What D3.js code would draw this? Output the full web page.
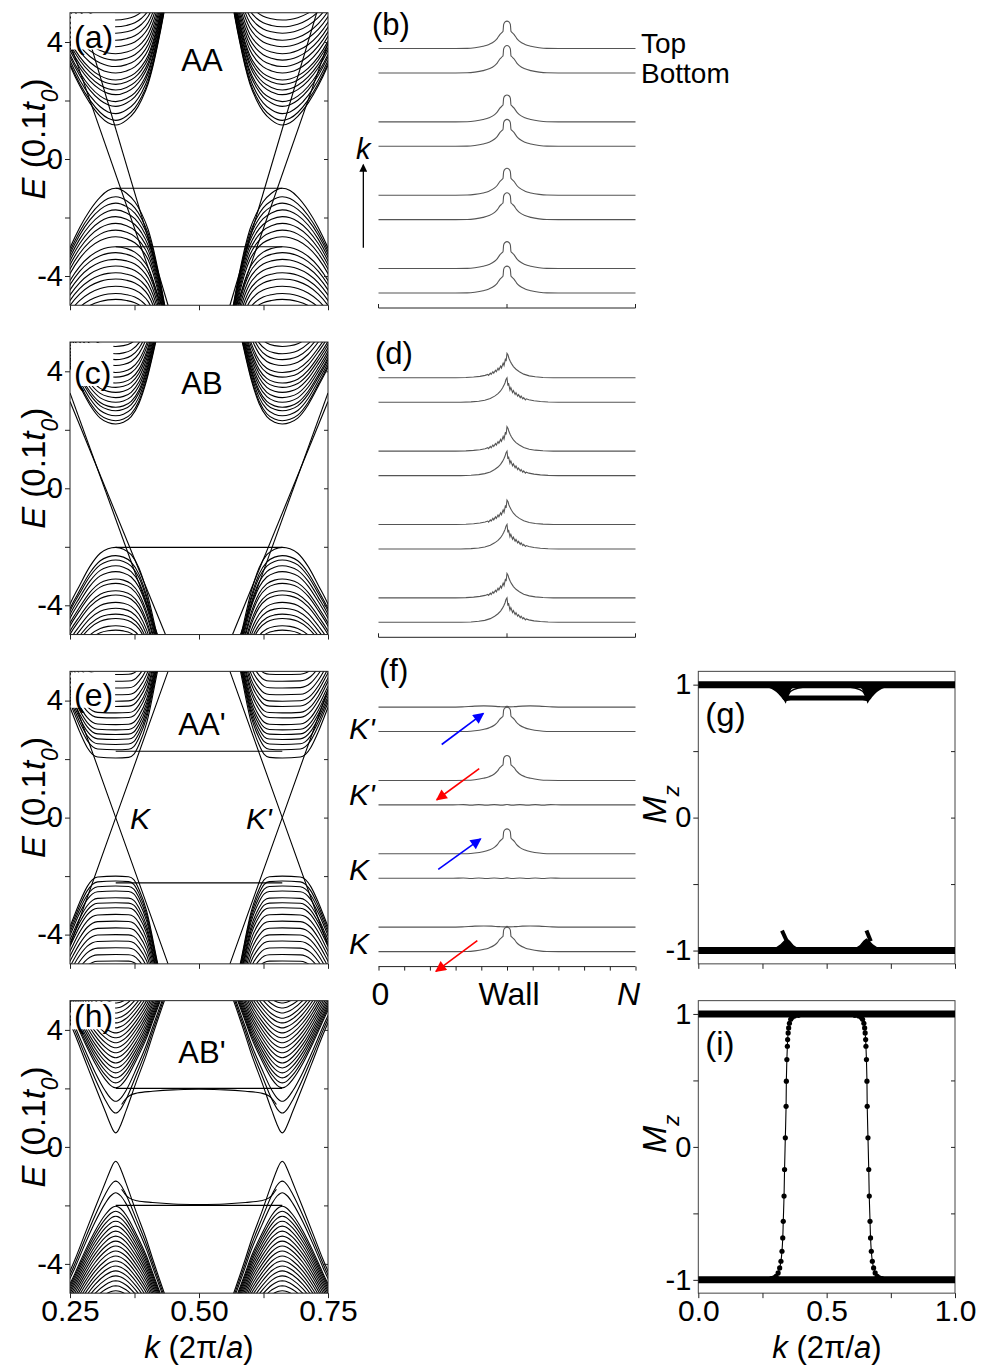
<!DOCTYPE html>
<html>
<head>
<meta charset="utf-8">
<title>Domain wall bands</title>
<script src="https://cdnjs.cloudflare.com/ajax/libs/d3/7.8.5/d3.min.js"></script>
<style>
  body { margin: 0; background: #fff; }
  svg { font-family: "Liberation Sans", Arial, sans-serif; }
</style>
</head>
<body>
<svg width="982" height="1365"></svg>
<script>
// valley position (K' = 1 - K)
var valleyK = 0.3386;

// ---- (a) AA : band extrema at K, dispersion of the outer band [dk, dE], edge states ----
var cbAA = [1.16, 1.32, 1.55, 1.8, 1.96, 2.2, 2.36, 2.55, 2.7, 2.94, 3.16, 3.38, 3.6, 3.84, 4.06, 4.3, 4.52, 4.75];
var vbAA = [-1.0, -1.29, -1.51, -1.74, -1.97, -2.2, -2.43, -2.66, -3.0, -3.2, -3.43, -3.66, -3.89, -4.1, -4.35, -4.6, -4.8];
var shapeAA = [[-0.15, 5.6], [-0.13, 4.2], [-0.11, 3.0], [-0.09, 2.1], [-0.07, 1.35], [-0.05, 0.75], [-0.03, 0.3], [-0.015, 0.08], [0, 0],
  [0.021, 0.17], [0.037, 0.46], [0.05, 0.86], [0.063, 1.42], [0.072, 2.0], [0.082, 2.8], [0.092, 3.7], [0.1, 4.5], [0.11, 5.4], [0.13, 7.2]];
var edgeAA = [[[0.25, 3.96], [0.427, -5]], [[0.25, 6.3], [0.44, -5]], [[valleyK, -1.0], [0.5, -1.0]], [[valleyK, -3.0], [0.5, -3.0]]];

// ---- (c) AB ----
var cbAB = [2.2, 2.31, 2.48, 2.65, 2.77, 2.94, 3.1, 3.28, 3.45, 3.6, 3.8, 3.96, 4.2, 4.4, 4.6, 4.85];
var vbAB = [-2.02, -2.3, -2.45, -2.65, -2.85, -3.1, -3.25, -3.5, -3.65, -3.9, -4.1, -4.3, -4.45, -4.7, -4.85];
var shapeAB = [[-0.15, 5.4], [-0.13, 4.1], [-0.11, 3.0], [-0.09, 2.0], [-0.07, 1.3], [-0.05, 0.65], [-0.03, 0.2], [-0.015, 0.05], [0, 0],
  [0.015, 0.06], [0.03, 0.25], [0.045, 0.7], [0.06, 1.5], [0.0775, 2.8], [0.09, 3.8], [0.1, 4.6], [0.11, 5.4], [0.13, 7.0]];
var edgeAB = [[[0.25, 3.26], [0.4196, -5]], [[0.25, 2.97], [0.435, -5]], [[valleyK, -2.02], [0.5, -2.02]]];

// ---- (e) AA' ----
var cbAAp = [2.04, 2.32, 2.5, 2.67, 2.84, 3.0, 3.18, 3.41, 3.58, 3.8, 3.98, 4.2, 4.43, 4.66, 4.89];
var vbAAp = [-2.0, -2.17, -2.34, -2.51, -2.74, -2.91, -3.08, -3.31, -3.54, -3.77, -4.0, -4.22, -4.45, -4.68, -4.9];
var shapeAAp = [[-0.15, 5.0], [-0.13, 3.7], [-0.11, 2.6], [-0.088, 1.7], [-0.07, 0.9], [-0.055, 0.35], [-0.045, 0.12], [-0.035, 0.03], [0, 0],
  [0.025, 0.02], [0.035, 0.12], [0.045, 0.45], [0.06, 1.2], [0.081, 2.96], [0.095, 4.1], [0.11, 5.4], [0.13, 7.0]];
var edgeAAp = [[[0.25, 4.38], [valleyK, 0], [0.44, -5]], [[0.25, -4.38], [valleyK, 0], [0.44, 5]],
  [[valleyK, 2.27], [0.5, 2.27]], [[valleyK, -2.23], [0.5, -2.23]]];

// ---- (h) AB' ----
var cbABp = [0.48, 1.16, 1.56, 2.02, 2.19, 2.36, 2.53, 2.7, 2.87, 3.05, 3.22, 3.39, 3.56, 3.73, 3.9, 4.07, 4.24, 4.4, 4.58, 4.75, 4.92];
var vbABp = [-0.49, -1.17, -1.57, -2.03, -2.2, -2.37, -2.54, -2.71, -2.88, -3.05, -3.22, -3.39, -3.56, -3.73, -3.9, -4.07, -4.24, -4.41, -4.58, -4.75, -4.92];
var shapeABp = [[-0.15, 6.2], [-0.13, 5.4], [-0.11, 4.6], [-0.079, 3.36], [-0.06, 2.5], [-0.04, 1.6], [-0.02, 0.72], [-0.01, 0.28], [-0.004, 0.06], [0, 0],
  [0.004, 0.06], [0.01, 0.28], [0.02, 0.75], [0.04, 1.75], [0.06, 2.7], [0.072, 3.36], [0.09, 4.3], [0.11, 5.3], [0.13, 6.3]];
var edgeABp = [[[valleyK, 2.0], [0.5, 2.0]], [[valleyK, -2.0], [0.5, -2.0]],
  [[0.35, 1.45], [0.357, 1.62], [0.365, 1.75], [0.38, 1.84], [0.41, 1.9], [0.45, 1.95], [0.5, 1.97]],
  [[0.35, -1.45], [0.357, -1.62], [0.365, -1.75], [0.38, -1.84], [0.41, -1.9], [0.45, -1.95], [0.5, -1.97]]];

// ---- wavefunction panels (b), (d), (f): offsets from the wall in sites, relative weight ----
var nSites = 200, wallSite = 100;
var cusp = [[-40, 0], [-31, 0.005], [-25, 0.03], [-18.6, 0.085], [-14, 0.15], [-9.6, 0.27], [-7.5, 0.37], [-5.7, 0.5],
  [-3.6, 0.6], [-3.1, 0.63], [-2.6, 0.88], [-1.5, 0.97], [0, 1], [1.5, 0.97], [2.6, 0.88], [3.1, 0.63], [3.6, 0.6],
  [5.7, 0.5], [7.5, 0.37], [9.6, 0.27], [14, 0.15], [18.6, 0.085], [25, 0.03], [31, 0.005], [40, 0]];
var jagLeft = [[-40, 0], [-32, 0.01], [-26, 0.03], [-21, 0.06], [-17, 0.1], [-15, 0.14], [-14.3, 0.1], [-13, 0.19],
  [-12.3, 0.14], [-11, 0.25], [-10.3, 0.19], [-9, 0.31], [-8.3, 0.25], [-7, 0.39], [-6.3, 0.32], [-5, 0.48], [-4.3, 0.4],
  [-3, 0.6], [-2.3, 0.5], [-1.2, 0.78], [-0.7, 0.68], [0, 1], [0.8, 0.93], [1.5, 0.8], [2.5, 0.68], [3.5, 0.58],
  [5, 0.46], [7, 0.35], [9.6, 0.25], [13, 0.15], [17.3, 0.08], [22, 0.04], [28, 0.015], [36, 0]];
var jagRight = [[-36, 0], [-28, 0.015], [-22, 0.04], [-17.3, 0.08], [-13, 0.15], [-9.6, 0.25], [-7, 0.35], [-5, 0.46],
  [-3.5, 0.58], [-2.5, 0.68], [-1.5, 0.8], [-0.8, 0.93], [0, 1], [0.7, 0.68], [1.2, 0.78], [2.3, 0.5], [3, 0.6],
  [4.3, 0.4], [5, 0.48], [6.3, 0.32], [7, 0.39], [8.3, 0.25], [9, 0.31], [10.3, 0.19], [11, 0.25], [12.3, 0.14],
  [13, 0.19], [14.3, 0.1], [15, 0.14], [17, 0.1], [21, 0.06], [26, 0.03], [32, 0.01], [40, 0]];
var ripple = [[-45, 0], [-35, 0.01], [-25, 0.04], [-18, 0.05], [-12, 0.04], [-6, 0.02], [-2, 0.01], [0, 0.03],
  [2, 0.01], [6, 0.02], [12, 0.04], [18, 0.05], [25, 0.04], [35, 0.01], [45, 0]];
var wiggle = [[-42, 0], [-34, 0.01], [-28, -0.01], [-22, 0.012], [-16, -0.01], [-10, 0.012], [-4, -0.01], [0, 0.015],
  [4, -0.01], [10, 0.012], [16, -0.01], [22, 0.012], [28, -0.01], [34, 0.01], [42, 0]];

var traceBase = [10, 9, 7, 6, 4, 3, 1, 0];
var shapesB = ["cusp", "cusp", "cusp", "cusp", "cusp", "cusp", "cusp", "cusp"];
var ampsB = [1.12, 1.12, 1.1, 1.1, 1.1, 1.1, 1.1, 1.1];
var shapesD = ["jagLeft", "jagRight", "jagLeft", "jagRight", "jagLeft", "jagRight", "jagLeft", "jagRight"];
var ampsD = [1.0, 1.0, 1.0, 1.0, 1.0, 1.0, 1.0, 1.0];
var shapesF = ["ripple", "cusp", "cusp", "wiggle", "cusp", "wiggle", "ripple", "cusp"];
var ampsF = [1, 1.0, 1.02, 1, 1.02, 1, 1, 1.0];
var spinArrowsF = [ // [siteFrom, yFrom, siteTo, yTo, colour]
  [49.2, 8.47, 81.6, 9.74, "#0000ff"], [78.4, 7.48, 45.3, 6.21, "#ff0000"],
  [46.5, 3.36, 79.5, 4.61, "#0000ff"], [76.9, 0.45, 44.7, -0.81, "#ff0000"]];
var valleyLabelsF = [["K'", 8.7], ["K'", 5.98], ["K", 2.91], ["K", -0.1]];

// ---- (g), (i): M_z against k ----
var gUpperBranch = [[0.265, 1], [0.29, 0.985], [0.31, 0.96], [0.33, 0.92], [0.34, 0.895], [0.36, 0.9], [0.5, 0.9],
  [0.64, 0.9], [0.66, 0.895], [0.67, 0.92], [0.69, 0.96], [0.71, 0.985], [0.735, 1]];
var gWedgeL = [[0.265, 0.995], [0.3, 0.975], [0.32, 0.94], [0.34, 0.87], [0.35, 0.93], [0.36, 0.97], [0.375, 0.995]];
var gWedgeR = [[0.625, 0.995], [0.64, 0.97], [0.65, 0.93], [0.66, 0.87], [0.68, 0.94], [0.7, 0.975], [0.735, 0.995]];
var gArcL = [[0.345, 0.9], [0.36, 0.95], [0.39, 0.975], [0.43, 0.985]];
var gArcR = [[0.655, 0.9], [0.64, 0.95], [0.61, 0.975], [0.57, 0.985]];
var gHillL = [[0.265, -1], [0.3, -0.985], [0.32, -0.96], [0.335, -0.93], [0.345, -0.915], [0.355, -0.93], [0.37, -0.965], [0.39, -0.99], [0.41, -1]];
var gHillR = [[0.59, -1], [0.61, -0.99], [0.63, -0.965], [0.645, -0.93], [0.655, -0.915], [0.665, -0.93], [0.68, -0.96], [0.7, -0.985], [0.735, -1]];
var gTails = [[[0.326, -0.85], [0.345, -0.93]], [[0.655, -0.85], [0.672, -0.93]]];
var iCurveL = [[0.285, -0.99], [0.295, -0.985], [0.303, -0.973], [0.311, -0.948], [0.317, -0.91], [0.322, -0.86],
  [0.326, -0.785], [0.329, -0.685], [0.331, -0.56], [0.334, -0.37], [0.336, -0.17], [0.339, 0.068], [0.342, 0.305],
  [0.343, 0.494], [0.345, 0.657], [0.347, 0.757], [0.348, 0.807], [0.35, 0.857], [0.352, 0.895], [0.355, 0.93],
  [0.36, 0.96], [0.366, 0.975], [0.375, 0.985], [0.39, 0.99]];
var iCurveR = iCurveL.map(function (p) { return [1 - p[0], p[1]]; });

// ---------------- drawing ----------------
var svg = d3.select("svg");
var defs = svg.append("defs");
[["headBlue", "#0000ff"], ["headRed", "#ff0000"], ["headBlack", "#000"]].forEach(function (m) {
  defs.append("marker").attr("id", m[0]).attr("viewBox", "0 0 10 10")
    .attr("refX", 9).attr("refY", 5).attr("markerUnits", "userSpaceOnUse")
    .attr("markerWidth", m[0] === "headBlack" ? 9 : 15).attr("markerHeight", m[0] === "headBlack" ? 8 : 11)
    .attr("orient", "auto")
    .append("path").attr("d", "M0,0L10,5L0,10Z").attr("fill", m[1]);
});

var rowY0 = [159, 488.3, 817.6, 1146.9];
var half = 146.25;
var L0 = 70, L1 = 328, M0 = 378.5, M1 = 635.5, R0 = 698.3, R1 = 955;

function yTitle(g, x, y, parts) {
  var t = g.append("text").attr("transform", "translate(" + x + "," + y + ") rotate(-90)")
    .attr("text-anchor", "middle").style("font-size", "33px");
  parts.forEach(function (p) {
    var s = t.append("tspan").text(p[0]);
    if (p[1]) s.style("font-style", "italic");
    if (p[2]) s.attr("baseline-shift", "sub").style("font-size", "23px");
  });
}

function xTitle(g, x, y) {
  var t = g.append("text").attr("x", x).attr("y", y).attr("text-anchor", "middle").style("font-size", "31px");
  t.append("tspan").text("k").style("font-style", "italic");
  t.append("tspan").text(" (2\u03c0/");
  t.append("tspan").text("a").style("font-style", "italic");
  t.append("tspan").text(")");
}

function styleAxis(sel, size) {
  sel.select(".domain").remove();
  sel.selectAll(".tick line").attr("stroke", "#222");
  sel.selectAll("text").style("font-size", (size || 29) + "px").attr("fill", "#000")
    .style("font-family", "'Liberation Sans', Arial, sans-serif");
}

function bandPanel(row, cb, vb, shape, edges, label, labelDy, name, nameDy, showX) {
  var y0 = rowY0[row];
  var x = d3.scaleLinear().domain([0.25, 0.75]).range([L0, L1]);
  var y = d3.scaleLinear().domain([-5, 5]).range([y0 + half, y0 - half]);
  var g = svg.append("g");
  var clipId = "clipBand" + row;
  defs.append("clipPath").attr("id", clipId).append("rect")
    .attr("x", L0).attr("y", y0 - half).attr("width", L1 - L0).attr("height", 2 * half);
  var plot = g.append("g").attr("clip-path", "url(#" + clipId + ")");
  var smooth = d3.line().x(function (d) { return x(d[0]); }).y(function (d) { return y(d[1]); }).curve(d3.curveMonotoneX);
  var straight = d3.line().x(function (d) { return x(d[0]); }).y(function (d) { return y(d[1]); });

  // every band of a valley shares the outer band's velocity: E^2 - E0^2 follows the outer band
  function addBand(E0, sign, eLow) {
    var m0 = Math.abs(E0), mLow = Math.abs(eLow);
    var pts = shape.map(function (p) {
      var m = mLow + p[1];
      return [p[0], sign * Math.sqrt(m0 * m0 + m * m - mLow * mLow)];
    });
    var left = pts.map(function (p) { return [valleyK + p[0], p[1]]; });
    var right = pts.map(function (p) { return [1 - valleyK - p[0], p[1]]; }).reverse();
    [left, right].forEach(function (pp) {
      plot.append("path").attr("d", smooth(pp)).attr("fill", "none").attr("stroke", "#000").attr("stroke-width", 1.1);
    });
  }
  cb.forEach(function (E0) { addBand(E0, 1, cb[0]); });
  vb.forEach(function (E0) { addBand(E0, -1, vb[0]); });
  edges.forEach(function (pts) {
    var mirror = pts.map(function (p) { return [1 - p[0], p[1]]; }).reverse();
    var gen = pts.length > 3 ? smooth : straight;
    [pts, mirror].forEach(function (pp) {
      plot.append("path").attr("d", gen(pp)).attr("fill", "none").attr("stroke", "#000").attr("stroke-width", 1.1);
    });
  });

  g.append("rect").attr("x", L0).attr("y", y0 - half).attr("width", L1 - L0).attr("height", 2 * half)
    .attr("fill", "none").attr("stroke", "#222").attr("stroke-width", 1);

  var ax = g.append("g").attr("transform", "translate(" + L0 + ",0)")
    .call(d3.axisLeft(y).tickValues([-4, -2, 0, 2, 4]).tickSize(5).tickPadding(2)
      .tickFormat(function (d) { return d % 4 === 0 ? String(d) : ""; }));
  styleAxis(ax);
  var axr = g.append("g").attr("transform", "translate(" + L1 + ",0)")
    .call(d3.axisLeft(y).tickValues([-4, -2, 0, 2, 4]).tickSize(4).tickFormat(""));
  styleAxis(axr);
  var axb = g.append("g").attr("transform", "translate(0," + (y0 + half) + ")")
    .call(d3.axisBottom(x).tickValues([0.25, 0.375, 0.5, 0.625, 0.75]).tickSize(5).tickPadding(2)
      .tickFormat(function (d) { return showX && [0.25, 0.5, 0.75].indexOf(d) >= 0 ? d.toFixed(2) : ""; }));
  styleAxis(axb, 30);

  // panel label on a white patch
  var lab = g.append("text").attr("x", L0 + 4).attr("y", y0 + labelDy).style("font-size", "32px").text(label);
  var bb = lab.node().getBBox();
  g.insert("rect", function () { return lab.node(); })
    .attr("x", L0 + 1).attr("y", y0 - half + 1).attr("width", bb.x + bb.width + 2 - L0 - 1)
    .attr("height", bb.y + bb.height - (y0 - half) - 6).attr("fill", "#fff");
  g.append("text").attr("x", x(0.5) + 3).attr("y", y0 + nameDy).attr("text-anchor", "middle")
    .style("font-size", "31px").text(name);

  yTitle(g, 45, y0 - 20, [["E", true], [" (0.1", false], ["t", true], ["0", true, true], [")", false]]);
  if (showX) xTitle(g, 199, 1358);
  return { g: g, x: x, y: y };
}

var profiles = { cusp: cusp, jagLeft: jagLeft, jagRight: jagRight, ripple: ripple, wiggle: wiggle };

function tracePanel(row, shapes, amps, label, labelX, labelDy, jagged) {
  var axisY = rowY0[row] + 149;
  var x = d3.scaleLinear().domain([0, nSites]).range([M0, M1]);
  var y = d3.scaleLinear().domain([0, 1]).range([axisY - 15, axisY - 15 - 24.45]);
  var g = svg.append("g");
  var line = d3.line().x(function (d) { return x(d[0]); }).y(function (d) { return y(d[1]); })
    .curve(jagged ? d3.curveLinear : d3.curveMonotoneX);
  traceBase.forEach(function (b, i) {
    var prof = profiles[shapes[i]];
    var pts = [[0, b]].concat(prof.map(function (p) { return [wallSite + p[0], b + amps[i] * p[1]]; }), [[nSites, b]]);
    g.append("path").attr("d", line(pts)).attr("fill", "none").attr("stroke", "#555").attr("stroke-width", 1.1);
  });
  g.append("line").attr("x1", M0).attr("x2", M1).attr("y1", axisY).attr("y2", axisY)
    .attr("stroke", "#222").attr("stroke-width", 1);
  g.append("text").attr("x", labelX).attr("y", rowY0[row] + labelDy).style("font-size", "31px").text(label);
  return { g: g, x: x, y: y, axisY: axisY };
}

function mzPanel(row, label, labelDy, showX) {
  var y0 = rowY0[row];
  var x = d3.scaleLinear().domain([0, 1]).range([R0, R1]);
  var y = d3.scaleLinear().domain([-1.1, 1.1]).range([y0 + half, y0 - half]);
  var g = svg.append("g");
  g.append("rect").attr("x", R0).attr("y", y0 - half).attr("width", R1 - R0).attr("height", 2 * half)
    .attr("fill", "none").attr("stroke", "#444").attr("stroke-width", 1);
  var ax = g.append("g").attr("transform", "translate(" + R0 + ",0)")
    .call(d3.axisLeft(y).tickValues([-1, -0.5, 0, 0.5, 1]).tickSize(5).tickPadding(2)
      .tickFormat(function (d) { return Number.isInteger(d) ? String(d) : ""; }));
  styleAxis(ax);
  var axr = g.append("g").attr("transform", "translate(" + R1 + ",0)")
    .call(d3.axisLeft(y).tickValues([-1, -0.5, 0, 0.5, 1]).tickSize(4).tickFormat(""));
  styleAxis(axr);
  var axb = g.append("g").attr("transform", "translate(0," + (y0 + half) + ")")
    .call(d3.axisBottom(x).tickValues([0, 0.25, 0.5, 0.75, 1]).tickSize(5).tickPadding(2)
      .tickFormat(function (d) { return showX && d * 2 === Math.round(d * 2) ? d.toFixed(1) : ""; }));
  styleAxis(axb, 30);
  g.append("text").attr("x", R0 + 7).attr("y", y0 + labelDy).style("font-size", "33px").text(label);
  var t = g.append("text").attr("transform", "translate(666," + (y0 - 13) + ") rotate(-90)")
    .attr("text-anchor", "middle").style("font-size", "33px");
  t.append("tspan").text("M").style("font-style", "italic");
  t.append("tspan").text("z").style("font-style", "italic").attr("baseline-shift", "sub").style("font-size", "22px");
  if (showX) xTitle(g, 827, 1358);
  return { g: g, x: x, y: y };
}

// band panels
bandPanel(0, cbAA, vbAA, shapeAA, edgeAA, "(a)", -111.5, "AA", -88, false);
bandPanel(1, cbAB, vbAB, shapeAB, edgeAB, "(c)", -104.3, "AB", -94, false);
var pe = bandPanel(2, cbAAp, vbAAp, shapeAAp, edgeAAp, "(e)", -111.8, "AA'", -83, false);
bandPanel(3, cbABp, vbABp, shapeABp, edgeABp, "(h)", -119.5, "AB'", -84, true);
pe.g.append("text").attr("x", 130).attr("y", rowY0[2] + 11).style("font-size", "30px").style("font-style", "italic").text("K");
pe.g.append("text").attr("x", 246).attr("y", rowY0[2] + 11).style("font-size", "30px").style("font-style", "italic").text("K'");

// wavefunction panels
var pb = tracePanel(0, shapesB, ampsB, "(b)", 372, -124.5, false);
var pd = tracePanel(1, shapesD, ampsD, "(d)", 375, -124.3, true);
var pf = tracePanel(2, shapesF, ampsF, "(f)", 379, -136.8, false);

[pb, pd].forEach(function (p) {
  p.g.selectAll(".endtick").data([0, wallSite, nSites]).enter().append("line")
    .attr("x1", function (d) { return p.x(d); }).attr("x2", function (d) { return p.x(d); })
    .attr("y1", p.axisY).attr("y2", p.axisY - 4).attr("stroke", "#222");
});
pb.g.append("text").attr("x", 641).attr("y", pb.y(10) + 4).style("font-size", "28px").text("Top");
pb.g.append("text").attr("x", 641).attr("y", pb.y(9) + 10).style("font-size", "28px").text("Bottom");
pb.g.append("line").attr("x1", pb.x(-11.8)).attr("x2", pb.x(-11.8)).attr("y1", pb.y(1.85)).attr("y2", pb.y(5.25))
  .attr("stroke", "#000").attr("stroke-width", 1.3).attr("marker-end", "url(#headBlack)");
pb.g.append("text").attr("x", pb.x(-11.8)).attr("y", pb.y(5.5)).attr("text-anchor", "middle")
  .style("font-size", "29px").style("font-style", "italic").text("k");

var axf = pf.g.append("g").attr("transform", "translate(0," + pf.axisY + ")")
  .call(d3.axisBottom(pf.x).tickValues(d3.range(0, nSites + 1, 20)).tickSize(4).tickFormat(""));
styleAxis(axf);
[[0, "0", false], [wallSite, "Wall", false], [nSites, "N", true]].forEach(function (d) {
  pf.g.append("text").attr("x", pf.x(d[0]) + (d[2] ? -7 : 2)).attr("y", pf.axisY + 38).attr("text-anchor", "middle")
    .style("font-size", "32px").style("font-style", d[2] ? "italic" : "normal").text(d[1]);
});
spinArrowsF.forEach(function (a) {
  pf.g.append("line").attr("x1", pf.x(a[0])).attr("y1", pf.y(a[1])).attr("x2", pf.x(a[2])).attr("y2", pf.y(a[3]))
    .attr("stroke", a[4]).attr("stroke-width", 1.6)
    .attr("marker-end", a[4] === "#0000ff" ? "url(#headBlue)" : "url(#headRed)");
});
valleyLabelsF.forEach(function (d) {
  pf.g.append("text").attr("x", 349).attr("y", pf.y(d[1])).style("font-size", "30px").style("font-style", "italic").text(d[0]);
});

// Mz panels
var pg = mzPanel(2, "(g)", -92, false);
var pi = mzPanel(3, "(i)", -92, true);
function mzLine(p, pts, w) {
  var l = d3.line().x(function (d) { return p.x(d[0]); }).y(function (d) { return p.y(d[1]); }).curve(d3.curveMonotoneX);
  p.g.append("path").attr("d", l(pts)).attr("fill", "none").attr("stroke", "#000").attr("stroke-width", w);
}
function mzFill(p, pts) {
  var l = d3.line().x(function (d) { return p.x(d[0]); }).y(function (d) { return p.y(d[1]); });
  p.g.append("path").attr("d", l(pts) + "Z").attr("fill", "#000").attr("stroke", "#000").attr("stroke-width", 1.5);
}
mzLine(pg, [[0, 1], [1, 1]], 7);
mzLine(pg, [[0, -1], [1, -1]], 7);
mzLine(pg, gUpperBranch, 5);
mzFill(pg, gWedgeL);
mzFill(pg, gWedgeR);
mzLine(pg, gArcL.slice().reverse(), 1.5);
mzLine(pg, gArcR, 1.5);
mzFill(pg, gHillL);
mzFill(pg, gHillR);
gTails.forEach(function (t) { mzLine(pg, t, 4); });

mzLine(pi, [[0, 1], [1, 1]], 7);
mzLine(pi, [[0, -1], [1, -1]], 7);
var iCurve = d3.line().x(function (d) { return pi.x(d[0]); }).y(function (d) { return pi.y(d[1]); }).curve(d3.curveCatmullRom);
[iCurveL, iCurveR].forEach(function (c) {
  pi.g.append("path").attr("d", iCurve(c)).attr("fill", "none").attr("stroke", "#000").attr("stroke-width", 1.1);
  pi.g.selectAll(null).data(c).enter().append("circle")
    .attr("cx", function (d) { return pi.x(d[0]); }).attr("cy", function (d) { return pi.y(d[1]); })
    .attr("r", 2.6).attr("fill", "#000");
});
</script>
</body>
</html>
